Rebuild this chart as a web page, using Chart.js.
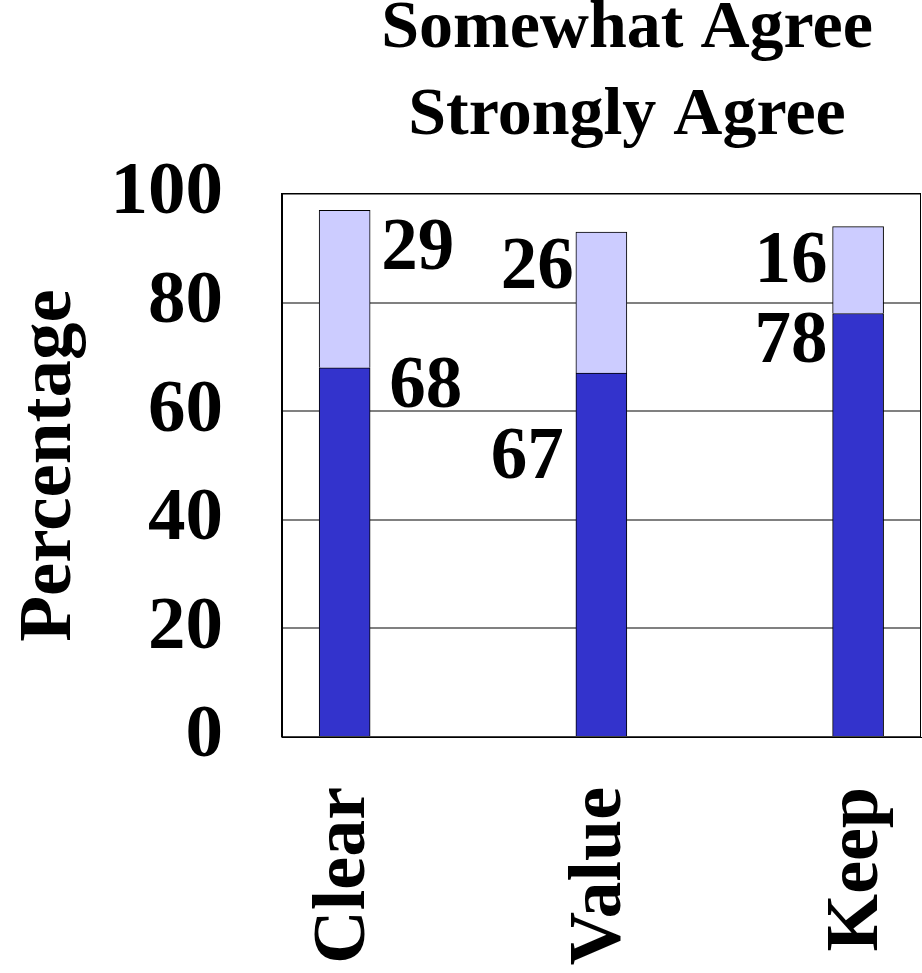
<!DOCTYPE html>
<html>
<head>
<meta charset="utf-8">
<script src="https://cdn.jsdelivr.net/npm/chart.js@4.4.0/dist/chart.umd.min.js"></script>
<style>
  html, body { margin: 0; padding: 0; background: #fff; overflow: hidden; }
  canvas { display: block; }
</style>
</head>
<body>
<canvas id="agreeChart" width="922" height="973"></canvas>
<script>
const categories = ['Clear', 'Value', 'Keep'];
const stronglyAgree = [68, 67, 78];
const somewhatAgree = [29, 26, 16];
const seriesNames = ['Somewhat Agree', 'Strongly Agree'];

// where each value label sits next to its bar segment: [dx, dy, side]
const strongNudge = [[19, 20, 'right'], [-12, 86, 'left'], [-5, 30, 'left']];
const somewhatNudge = [[11, 40, 'right'], [-2, 37, 'left'], [-5, 37, 'left']];

const serif = "'Liberation Serif', 'Times New Roman', serif";

const plotFrame = {
  id: 'plotFrame',
  afterDatasetsDraw(chart) {
    const { ctx, chartArea: a } = chart;
    ctx.save();
    ctx.strokeStyle = '#000';
    ctx.lineWidth = 1;
    ctx.strokeRect(Math.round(a.left) - 0.5, Math.round(a.top) - 0.5,
      Math.round(a.right - a.left), Math.round(a.bottom - a.top) + 0.5);
    ctx.restore();
  }
};

const valueLabels = {
  id: 'valueLabels',
  afterDatasetsDraw(chart) {
    const ctx = chart.ctx;
    const nudges = [strongNudge, somewhatNudge];
    ctx.save();
    ctx.font = 'bold 73px ' + serif;
    ctx.fillStyle = '#000';
    ctx.textBaseline = 'middle';
    chart.data.datasets.forEach((ds, di) => {
      chart.getDatasetMeta(di).data.forEach((bar, i) => {
        const [dx, dy, side] = nudges[di][i];
        const half = bar.width / 2;
        let x;
        if (side === 'right') {
          ctx.textAlign = 'left';
          x = bar.x + half + dx;
        } else {
          ctx.textAlign = 'right';
          x = bar.x - half + dx;
        }
        ctx.fillText(String(ds.data[i].y), x, bar.y + dy);
      });
    });
    ctx.restore();
  }
};

// centre the heading over the right part of the plot like the original
const headingShift = {
  id: 'headingShift',
  afterLayout(chart) {
    const t = chart.titleBlock;
    if (!t) return;
    const mid = chart.chartArea.left + 345;
    t.left = mid - 300;
    t.right = mid + 300;
    t.width = 600;
  }
};

new Chart(document.getElementById('agreeChart'), {
  type: 'bar',
  data: {
    datasets: [
      {
        label: seriesNames[1],
        data: stronglyAgree.map((v, i) => ({ x: i, y: v })),
        backgroundColor: '#3333CC',
        borderColor: '#000',
        borderWidth: 1,
        barThickness: 51
      },
      {
        label: seriesNames[0],
        data: somewhatAgree.map((v, i) => ({ x: i, y: v })),
        backgroundColor: '#CCCCFF',
        borderColor: '#000',
        borderWidth: 1,
        barThickness: 51
      }
    ]
  },
  options: {
    responsive: false,
    animation: false,
    layout: { padding: { top: -14, left: 0, right: 1, bottom: 0 } },
    plugins: {
      legend: { display: false },
      tooltip: { enabled: false },
      title: {
        display: true,
        text: seriesNames,
        color: '#000',
        font: { family: serif, size: 68, weight: 'bold', lineHeight: '87px' },
        padding: { top: 0, bottom: 34 }
      }
    },
    scales: {
      x: {
        type: 'linear',
        offset: false,
        stacked: true,
        min: -0.244,
        max: 2.245,
        grid: { display: false, drawTicks: false },
        border: { display: true, color: '#000' },
        afterBuildTicks: (s) => { s.ticks = categories.map((c, i) => ({ value: i })); },
        afterFit: (s) => { s.height = 236; s.paddingLeft = 0; s.paddingRight = 0; },
        ticks: {
          autoSkip: false,
          minRotation: 90,
          maxRotation: 90,
          padding: 50,
          color: '#000',
          font: { family: serif, size: 74, weight: 'bold' },
          callback: (v) => categories[v]
        }
      },
      y: {
        stacked: true,
        min: 0,
        max: 100,
        grid: { color: '#808080', lineWidth: 2, drawTicks: false },
        border: { display: true, color: '#000' },
        afterFit: (s) => { s.width = 282; },
        ticks: {
          stepSize: 20,
          padding: 59,
          color: '#000',
          font: { family: serif, size: 75, weight: 'bold' }
        },
        title: {
          display: true,
          text: 'Percentage',
          color: '#000',
          padding: { top: 6, bottom: 0 },
          font: { family: serif, size: 75, weight: 'bold' }
        }
      }
    }
  },
  plugins: [plotFrame, valueLabels, headingShift]
});
</script>
</body>
</html>
